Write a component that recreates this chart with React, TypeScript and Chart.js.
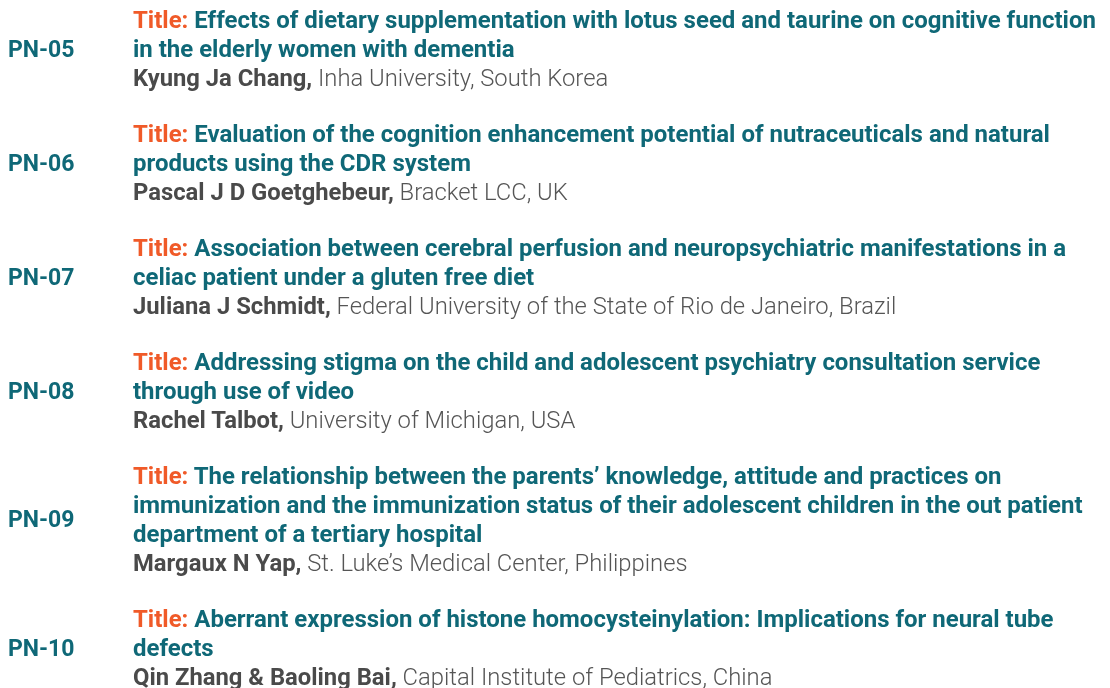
import React, { useEffect, useRef } from "react";
import { Chart, registerables } from "chart.js";

Chart.register(...registerables);

const codes = ["PN-05", "PN-06", "PN-07", "PN-08", "PN-09", "PN-10"];
const titleLines = [
  ["Effects of dietary supplementation with lotus seed and taurine on cognitive function", "in the elderly women with dementia"],
  ["Evaluation of the cognition enhancement potential of nutraceuticals and natural", "products using the CDR system"],
  ["Association between cerebral perfusion and neuropsychiatric manifestations in a", "celiac patient under a gluten free diet"],
  ["Addressing stigma on the child and adolescent psychiatry consultation service", "through use of video"],
  ["The relationship between the parents\u2019 knowledge, attitude and practices on", "immunization and the immunization status of their adolescent children in the out patient", "department of a tertiary hospital"],
  ["Aberrant expression of histone homocysteinylation: Implications for neural tube", "defects"],
];
const authors = [
  "Kyung Ja Chang,",
  "Pascal J D Goetghebeur,",
  "Juliana J Schmidt,",
  "Rachel Talbot,",
  "Margaux N Yap,",
  "Qin Zhang & Baoling Bai,",
];
const affiliations = [
  "Inha University, South Korea",
  "Bracket LCC, UK",
  "Federal University of the State of Rio de Janeiro, Brazil",
  "University of Michigan, USA",
  "St. Luke\u2019s Medical Center, Philippines",
  "Capital Institute of Pediatrics, China",
];

const TEAL = "#0f6877";
const ORANGE = "#f05a28";
const GREY = "#4a4a4a";

export default function App() {
  const ref = useRef<HTMLCanvasElement | null>(null);
  useEffect(() => {
    if (!ref.current) return;
    const chart = new Chart(ref.current, {
      type: "scatter",
      data: { datasets: [{ data: [] }] },
      options: {
        animation: false,
        responsive: false,
        plugins: { legend: { display: false }, tooltip: { enabled: false } },
        scales: { x: { display: false }, y: { display: false } },
      },
    });
    return () => chart.destroy();
  }, []);

  return (
    <div style={{ position: "fixed", left: 0, top: 0, width: 1110, height: 688, background: "#fff", overflow: "hidden", fontFamily: "Roboto, 'Noto Sans', sans-serif" }}>
      <canvas ref={ref} width={1110} height={688} style={{ position: "absolute", left: 0, top: 0 }} />
      <div style={{ position: "absolute", left: 0, top: 5.5, width: 1110, display: "flex", flexDirection: "column", gap: 27 }}>
        {codes.map((c, i) => (
          <div key={c} style={{ display: "flex", alignItems: "center", fontSize: 24, lineHeight: "29px" }}>
            <div style={{ width: 125, paddingLeft: 8, fontWeight: 700, color: TEAL, fontSize: 23 }}>{c}</div>
            <div>
              {titleLines[i].map((l, j) => (
                <div key={j} style={{ whiteSpace: "nowrap", fontWeight: 700, color: TEAL, fontSize: 23.97 }}>
                  {j === 0 ? <span style={{ color: ORANGE }}>Title: </span> : null}
                  {l}
                </div>
              ))}
              <div style={{ whiteSpace: "nowrap", color: GREY, fontSize: 23.8 }}>
                <span style={{ fontWeight: 700 }}>{authors[i]}</span>
                <span style={{ fontWeight: 300, color: "#555" }}> {affiliations[i]}</span>
              </div>
            </div>
          </div>
        ))}
      </div>
    </div>
  );
}
